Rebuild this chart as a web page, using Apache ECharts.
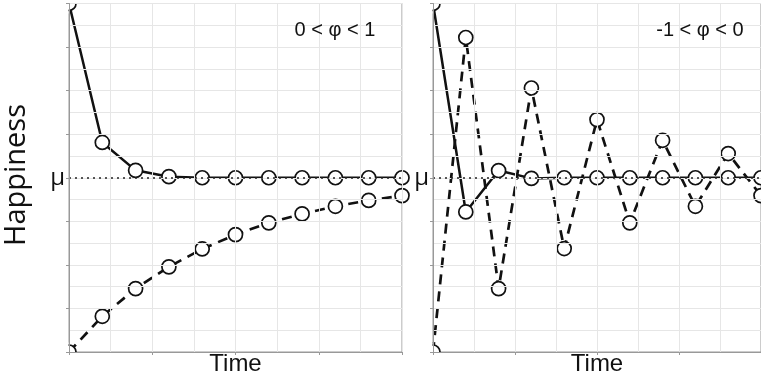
<!DOCTYPE html>
<html>
<head>
<meta charset="utf-8">
<script src="https://cdn.jsdelivr.net/npm/echarts@6/dist/echarts.min.js"></script>
<style>
html,body{margin:0;padding:0;background:#fff;}
#c{width:761px;height:381px;}
</style>
</head>
<body>
<div id="c"></div>
<script>
// ---- data ----
var time = [0, 1, 2, 3, 4, 5, 6, 7, 8, 9, 10];
var mu = 8;
var leftSolid  = [16, 9.62, 8.34, 8.05, 8, 8, 8, 8, 8, 8, 8];
var leftDashed = [0, 1.64, 2.91, 3.91, 4.73, 5.39, 5.93, 6.34, 6.69, 6.96, 7.18];
var rightSolid = [16, 6.43, 8.33, 7.97, 8, 8, 8, 8, 8, 8, 8];
var rightDashed= [0, 14.44, 2.91, 12.12, 4.75, 10.67, 5.93, 9.72, 6.69, 9.11, 7.18];
var panelTitles = ['0 < \u03c6 < 1', '-1 < \u03c6 < 0'];
var xName = 'Time';
var yName = 'Happiness';
var muLabel = '\u03bc';

function pairs(ys){ return time.map(function(t,i){ return [t, ys[i]]; }); }

// ---- layout ----
var grids = [
  {left: 69, top: 3.5, width: 333, height: 349},
  {left: 433, top: 3.5, width: 333, height: 349}
];

var chart = echarts.init(document.getElementById('c'), null, {renderer: 'canvas'});

function xAxis(gi){
  return {
    type: 'value', gridIndex: gi, min: 0, max: 10, interval: 2.5,
    name: xName, nameLocation: 'middle', nameGap: 0,
    nameTextStyle: {fontFamily: 'Liberation Sans', fontSize: 24, color: '#111'},
    axisLine: {show: true, lineStyle: {color: '#999', width: 1}},
    axisTick: {show: true, length: 3, lineStyle: {color: '#999'}},
    axisLabel: {show: false},
    splitLine: {show: true, lineStyle: {color: '#e6e6e6', width: 1}},
    minorTick: {show: false, splitNumber: 2},
    minorSplitLine: {show: true, lineStyle: {color: '#e6e6e6', width: 1}},
    z: 5
  };
}
function yAxis(gi){
  return {
    type: 'value', gridIndex: gi, min: 0, max: 16, interval: 2,
    axisLine: {show: true, lineStyle: {color: '#999', width: 1}},
    axisTick: {show: true, length: 3, lineStyle: {color: '#999'}},
    axisLabel: {
      show: true, margin: 4, fontSize: 24, fontFamily: 'Open Sans', color: '#111',
      formatter: function(v){ return v === mu ? muLabel : ''; }
    },
    splitLine: {show: true, lineStyle: {color: '#e6e6e6', width: 1}},
    minorTick: {show: false, splitNumber: 2},
    minorSplitLine: {show: true, lineStyle: {color: '#e6e6e6', width: 1}},
    z: 5
  };
}

function lineSeries(gi, ys, dashed, withMark){
  var s = {
    type: 'line', xAxisIndex: gi, yAxisIndex: gi,
    data: pairs(ys),
    symbol: 'circle', symbolSize: 14,
    itemStyle: {color: '#fff', borderColor: '#111', borderWidth: 1.7},
    lineStyle: {color: '#111', width: dashed ? 2.7 : 2.5, type: dashed ? [10, 7] : 'solid'},
    emphasis: {disabled: true},
    z: dashed ? 2 : 3
  };
  if (withMark) {
    s.markLine = {
      silent: true, symbol: 'none', label: {show: false},
      lineStyle: {color: '#222', width: 1.6, type: [2, 4]},
      data: [{yAxis: mu}]
    };
  }
  return s;
}

var graphics = [
  {type: 'text', x: 17, y: 175, rotation: Math.PI / 2,
   style: {text: yName, font: '29px "Open Sans"', fill: '#111', textAlign: 'center', textVerticalAlign: 'middle'}, z: 10},
  {type: 'text', x: grids[0].left + 266, y: 30,
   style: {text: panelTitles[0], font: '20px "Liberation Sans"', fill: '#111', textAlign: 'center', textVerticalAlign: 'middle'}, z: 10},
  {type: 'text', x: grids[1].left + 267, y: 30,
   style: {text: panelTitles[1], font: '20px "Liberation Sans"', fill: '#111', textAlign: 'center', textVerticalAlign: 'middle'}, z: 10}
];
// masks that clip the corner markers to the plot rectangle (layout only)
grids.forEach(function(g){
  graphics.push({type: 'rect', shape: {x: g.left - 10, y: 0, width: 30, height: g.top - 0.5}, style: {fill: '#fff'}, z: 4});
  graphics.push({type: 'rect', shape: {x: g.left - 10, y: 0, width: 9.5, height: g.top + 10}, style: {fill: '#fff'}, z: 4});
  graphics.push({type: 'rect', shape: {x: g.left - 10, y: g.top + g.height - 10, width: 9.5, height: 20}, style: {fill: '#fff'}, z: 4});
  graphics.push({type: 'rect', shape: {x: g.left - 10, y: g.top + g.height + 0.5, width: 20, height: 9}, style: {fill: '#fff'}, z: 4});
});

chart.setOption({
  animation: false,
  backgroundColor: '#fff',
  grid: grids.map(function(g){
    return {left: g.left, top: g.top, width: g.width, height: g.height, show: true, borderColor: '#999', borderWidth: 1, backgroundColor: 'transparent'};
  }),
  xAxis: [xAxis(0), xAxis(1)],
  yAxis: [yAxis(0), yAxis(1)],
  series: [
    lineSeries(0, leftDashed, true, true),
    lineSeries(0, leftSolid, false, false),
    lineSeries(1, rightDashed, true, true),
    lineSeries(1, rightSolid, false, false)
  ],
  graphic: graphics
});
</script>
</body>
</html>
